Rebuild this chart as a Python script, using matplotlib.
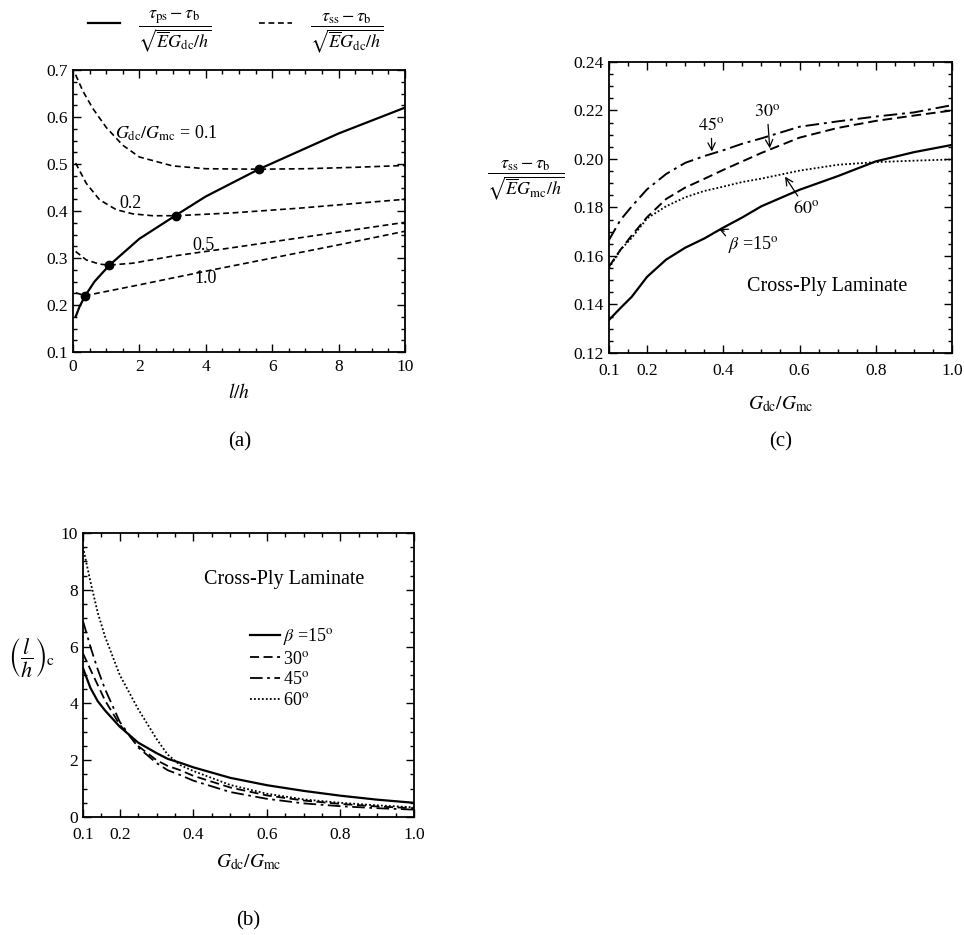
import numpy as np
import matplotlib
matplotlib.use("Agg")
import matplotlib.pyplot as plt
from matplotlib.lines import Line2D
from matplotlib.ticker import MultipleLocator, FormatStrFormatter

plt.rcParams['font.family'] = ['Liberation Serif', 'DejaVu Serif']
plt.rcParams['mathtext.fontset'] = 'stix'
plt.rcParams['font.size'] = 12

# ---- panel (a): stresses vs l/h ----
ps_x = [0.08, 0.2, 0.37, 0.65, 1.1, 2.0, 3.1, 4.0, 5.6, 8.0, 10.0]
ps_y = [0.175, 0.197, 0.22, 0.25, 0.285, 0.341, 0.391, 0.431, 0.489, 0.565, 0.62]

ss01_x = [0.08, 0.3, 0.6, 1.0, 1.5, 2.0, 3.0, 4.0, 5.6, 7.0, 8.5, 10.0]
ss01_y = [0.69, 0.655, 0.618, 0.578, 0.54, 0.515, 0.496, 0.49, 0.489, 0.49, 0.493, 0.497]
ss02_x = [0.08, 0.4, 0.8, 1.3, 1.8, 2.4, 3.1, 4.8, 6.8, 10.0]
ss02_y = [0.502, 0.459, 0.424, 0.403, 0.394, 0.39, 0.39, 0.396, 0.406, 0.425]
ss05_x = [0.08, 0.4, 0.8, 1.1, 1.8, 3.0, 5.0, 7.5, 10.0]
ss05_y = [0.314, 0.296, 0.287, 0.285, 0.289, 0.304, 0.324, 0.35, 0.376]
ss10_x = [0.08, 0.37, 2.0, 4.0, 6.0, 8.0, 10.0]
ss10_y = [0.226, 0.22, 0.243, 0.272, 0.300, 0.328, 0.357]

cross_x = [0.37, 1.1, 3.1, 5.6]
cross_y = [0.22, 0.285, 0.39, 0.489]

# ---- panel (b): critical length vs Gdc/Gmc ----
lc_x = [0.1, 0.12, 0.14, 0.16, 0.2, 0.25, 0.3, 0.33, 0.364, 0.4, 0.5, 0.6, 0.7, 0.8, 0.9, 1.0]
lc_15 = [5.24, 4.55, 4.08, 3.75, 3.18, 2.62, 2.25, 2.05, 1.91, 1.75, 1.38, 1.12, 0.92, 0.75, 0.61, 0.5]
lc_30 = [5.76, 5.2, 4.65, 4.1, 3.25, 2.5, 2.0, 1.8, 1.65, 1.45, 1.04, 0.76, 0.58, 0.46, 0.37, 0.31]
lc_45 = [6.9, 6.0, 5.2, 4.5, 3.35, 2.45, 1.9, 1.65, 1.48, 1.28, 0.88, 0.64, 0.48, 0.38, 0.31, 0.26]
lc_60 = [9.5, 8.3, 7.2, 6.35, 5.0, 3.8, 2.75, 2.2, 1.83, 1.62, 1.13, 0.82, 0.62, 0.5, 0.41, 0.34]

# ---- panel (c): stress vs Gdc/Gmc ----
sc_x = [0.1, 0.13, 0.16, 0.2, 0.25, 0.3, 0.35, 0.4, 0.45, 0.5, 0.6, 0.7, 0.8, 0.9, 1.0]
sc_15 = [0.1336, 0.1385, 0.1432, 0.1514, 0.1585, 0.1634, 0.1672, 0.1717, 0.1759, 0.1805, 0.1873, 0.1929, 0.199, 0.2028, 0.2058]
sc_30 = [0.1556, 0.1625, 0.1685, 0.176, 0.1835, 0.1882, 0.1918, 0.1955, 0.199, 0.2025, 0.2088, 0.2128, 0.2157, 0.2179, 0.22]
sc_45 = [0.1666, 0.1748, 0.1805, 0.1875, 0.1938, 0.1984, 0.2012, 0.2036, 0.2063, 0.2085, 0.2133, 0.2155, 0.2175, 0.2192, 0.2222]
sc_60 = [0.155, 0.1625, 0.1675, 0.1755, 0.1805, 0.1842, 0.1868, 0.1886, 0.1905, 0.1919, 0.1952, 0.1976, 0.1987, 0.1993, 0.1998]

DASH_A = (0, (3.5, 2.2))
DASH = (0, (5, 2.5))
DASHDOT = (0, (7, 2.5, 1.5, 2.5))
DOT = (0, (1, 1.2))


def style_axes(ax, xpad=5):
    ax.tick_params(which='both', direction='in', top=True, right=True, labelsize=12.5)
    ax.tick_params(which='major', length=6, width=1)
    ax.tick_params(which='minor', length=3, width=1)
    ax.tick_params(axis='x', pad=xpad)
    for s in ax.spines.values():
        s.set_linewidth(1.3)


fig = plt.figure(figsize=(9.64, 9.35), dpi=100)

# (a)
ax = fig.add_axes([0.0757, 0.6235, 0.3444, 0.3016])
ax.plot(ps_x, ps_y, '-', color='k', lw=1.6)
for xs, ys in [(ss01_x, ss01_y), (ss02_x, ss02_y), (ss05_x, ss05_y), (ss10_x, ss10_y)]:
    ax.plot(xs, ys, color='k', lw=1.2, ls=DASH_A)
ax.plot(cross_x, cross_y, 'o', color='k', ms=6)
ax.set_xlim(0, 10)
ax.set_ylim(0.1, 0.7)
ax.xaxis.set_major_locator(MultipleLocator(2))
ax.xaxis.set_minor_locator(MultipleLocator(0.5))
ax.yaxis.set_major_locator(MultipleLocator(0.1))
ax.yaxis.set_minor_locator(MultipleLocator(0.025))
ax.yaxis.set_major_formatter(FormatStrFormatter('%.1f'))
style_axes(ax)
ax.set_xlabel(r'$l/h$', fontsize=14, labelpad=6)
ax.text(1.26, 0.565, r'$G_{\rm dc}/G_{\rm mc}$ = 0.1', fontsize=13, va='center')
ax.text(1.4, 0.417, '0.2', fontsize=13, va='center')
ax.text(3.6, 0.326, '0.5', fontsize=13, va='center')
ax.text(3.65, 0.256, '1.0', fontsize=13, va='center')
h1 = Line2D([], [], color='k', lw=1.6)
h2 = Line2D([], [], color='k', lw=1.2, ls=DASH_A)
ax.legend([h1, h2],
          [r'$\dfrac{\tau_{\rm ps}-\tau_{\rm b}}{\sqrt{\overline{E}G_{\rm dc}/h}}$',
           r'$\dfrac{\tau_{\rm ss}-\tau_{\rm b}}{\sqrt{\overline{E}G_{\rm dc}/h}}$'],
          ncol=2, loc='lower left', bbox_to_anchor=(0.045, 1.055), frameon=False,
          borderpad=0, borderaxespad=0, handlelength=1.8, handletextpad=1.0,
          columnspacing=2.6, fontsize=13)

# (c)
ax = fig.add_axes([0.6317, 0.6225, 0.3558, 0.3112])
ax.plot(sc_x, sc_15, color='k', lw=1.6, ls='-')
ax.plot(sc_x, sc_30, color='k', lw=1.4, ls=DASH)
ax.plot(sc_x, sc_45, color='k', lw=1.4, ls=DASHDOT)
ax.plot(sc_x, sc_60, color='k', lw=1.3, ls=DOT)
ax.set_xlim(0.1, 1.0)
ax.set_ylim(0.12, 0.24)
ax.set_xticks([0.1, 0.2, 0.4, 0.6, 0.8, 1.0])
ax.xaxis.set_minor_locator(MultipleLocator(0.05))
ax.yaxis.set_major_locator(MultipleLocator(0.02))
ax.yaxis.set_minor_locator(MultipleLocator(0.005))
ax.xaxis.set_major_formatter(FormatStrFormatter('%.1f'))
ax.yaxis.set_major_formatter(FormatStrFormatter('%.2f'))
style_axes(ax, xpad=7)
ax.set_xlabel(r'$G_{\rm dc}/G_{\rm mc}$', fontsize=14, labelpad=11)
ax.text(-0.242, 0.595,
        r'$\dfrac{\tau_{\rm ss}-\tau_{\rm b}}{\sqrt{\overline{E}G_{\rm mc}/h}}$',
        transform=ax.transAxes, ha='center', va='center', fontsize=13)
arw = dict(arrowstyle='->', lw=0.9, color='k', shrinkA=1, shrinkB=0)
ax.annotate(r'$45^{\rm o}$', xy=(0.37, 0.2031), xytext=(0.368, 0.2137),
            ha='center', va='center', fontsize=13, arrowprops=arw)
ax.annotate(r'$30^{\rm o}$', xy=(0.522, 0.2044), xytext=(0.515, 0.2195),
            ha='center', va='center', fontsize=13, arrowprops=arw)
ax.annotate(r'$60^{\rm o}$', xy=(0.562, 0.1927), xytext=(0.617, 0.1796),
            ha='center', va='center', fontsize=13, arrowprops=arw)
ax.annotate(r'$\beta$ =15$^{\rm o}$', xy=(0.389, 0.1711), xytext=(0.413, 0.1649),
            ha='left', va='center', fontsize=13, arrowprops=arw)
ax.text(0.462, 0.1476, 'Cross-Ply Laminate', fontsize=14.5, va='center')

# (b)
ax = fig.add_axes([0.0861, 0.1262, 0.3434, 0.3037])
ax.plot(lc_x, lc_15, color='k', lw=1.6, ls='-', label=r'$\beta$ =15$^{\rm o}$')
ax.plot(lc_x, lc_30, color='k', lw=1.3, ls=DASH, label=r'30$^{\rm o}$')
ax.plot(lc_x, lc_45, color='k', lw=1.3, ls=DASHDOT, label=r'45$^{\rm o}$')
ax.plot(lc_x, lc_60, color='k', lw=1.3, ls=DOT, label=r'60$^{\rm o}$')
ax.set_xlim(0.1, 1.0)
ax.set_ylim(0, 10)
ax.set_xticks([0.1, 0.2, 0.4, 0.6, 0.8, 1.0])
ax.xaxis.set_minor_locator(MultipleLocator(0.05))
ax.yaxis.set_major_locator(MultipleLocator(2))
ax.yaxis.set_minor_locator(MultipleLocator(0.5))
ax.xaxis.set_major_formatter(FormatStrFormatter('%.1f'))
style_axes(ax, xpad=7)
ax.set_xlabel(r'$G_{\rm dc}/G_{\rm mc}$', fontsize=14, labelpad=7)
ax.text(-0.154, 0.563, r'$\left(\dfrac{l}{h}\right)_{\rm c}$',
        transform=ax.transAxes, ha='center', va='center', fontsize=16)
ax.text(0.43, 8.35, 'Cross-Ply Laminate', fontsize=14.5, va='center')
ax.legend(loc='upper left', bbox_to_anchor=(0.505, 0.672), frameon=False,
          borderpad=0, borderaxespad=0, handlelength=1.65, handletextpad=0.15,
          labelspacing=0.2, fontsize=13)

fig.text(0.249, 0.527, '(a)', fontsize=15, ha='center', va='center')
fig.text(0.810, 0.527, '(c)', fontsize=15, ha='center', va='center')
fig.text(0.257, 0.015, '(b)', fontsize=15, ha='center', va='center')

fig.savefig('out.png', dpi=100)
